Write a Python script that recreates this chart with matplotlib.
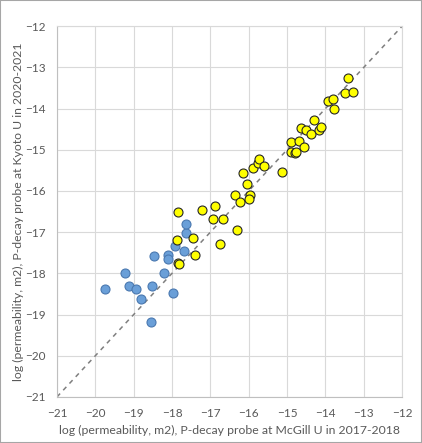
import numpy as np
import matplotlib
matplotlib.use("Agg")
import matplotlib.pyplot as plt
from matplotlib.patches import Rectangle

plt.rcParams['font.family'] = ['Lato', 'DejaVu Sans']

# McGill (x) vs Kyoto (y), log permeability
blue_x = [-19.74, -19.22, -19.13, -18.94, -18.81, -18.56, -18.51, -18.46,
          -18.20, -18.11, -18.10, -17.97, -17.91, -17.69, -17.63, -17.63]
blue_y = [-18.39, -17.98, -18.30, -18.39, -18.63, -19.19, -18.30, -17.59,
          -17.98, -17.56, -17.65, -18.48, -17.33, -17.47, -17.03, -16.81]

yellow_x = [-17.85, -17.88, -17.84, -17.83, -17.46, -17.39, -17.21, -16.89,
            -16.92, -16.67, -16.76, -16.30, -16.37, -16.24, -15.98, -15.99,
            -16.05, -16.15, -15.89, -15.77, -15.73, -15.60, -15.12, -14.90,
            -14.90, -14.79, -14.77, -14.68, -14.55, -14.64, -14.51, -14.38,
            -14.29, -14.16, -14.11, -13.94, -13.81, -13.77, -13.49, -13.42,
            -13.29]
yellow_y = [-16.52, -17.19, -17.74, -17.78, -17.15, -17.56, -16.46, -16.37,
            -16.67, -16.67, -17.29, -16.96, -16.10, -16.28, -16.10, -16.19,
            -15.83, -15.56, -15.44, -15.32, -15.23, -15.39, -15.53, -14.81,
            -15.06, -15.09, -15.05, -14.78, -14.94, -14.47, -14.52, -14.61,
            -14.28, -14.52, -14.46, -13.81, -13.78, -14.02, -13.63, -13.27,
            -13.60]

ticks = list(range(-21, -11))

fig = plt.figure(figsize=(4.22, 4.43), dpi=100)
ax = fig.add_axes([0.135, 0.104, 0.818, 0.837])

ax.plot([-21, -12], [-21, -12], color='#7f7f7f', lw=1.1, ls=(0, (3, 3)), zorder=2)
ax.scatter(blue_x, blue_y, s=42, color='#6a9fd8', edgecolor='#4a78b0', lw=0.8, zorder=3)
ax.scatter(yellow_x, yellow_y, s=42, color='#ffff00', edgecolor='#262626', lw=0.8, zorder=4)

ax.set_xlim(-21, -12)
ax.set_ylim(-21, -12)
ax.set_xticks(ticks)
ax.set_yticks(ticks)
ax.grid(True, color='#d9d9d9', lw=0.8)
ax.set_axisbelow(True)
for s in ax.spines.values():
    s.set_color('#d9d9d9')
    s.set_linewidth(0.8)
ax.spines['left'].set_color('#bfbfbf')
ax.spines['bottom'].set_color('#bfbfbf')
ax.tick_params(length=0, labelsize=8.5, labelcolor='#595959', pad=8)

ax.set_xlabel('log (permeability, m2), P-decay probe at McGill U in 2017-2018',
              fontsize=8.8, color='#595959', labelpad=4)
ax.set_ylabel('log (permeability, m2), P-decay probe at Kyoto U in 2020-2021',
              fontsize=8.8, color='#595959', labelpad=1)

fig.patches.append(Rectangle((0, 0), 1, 1, transform=fig.transFigure, fill=False,
                             edgecolor='#a6a6a6', lw=1.5))

fig.savefig('out.png', dpi=100)
